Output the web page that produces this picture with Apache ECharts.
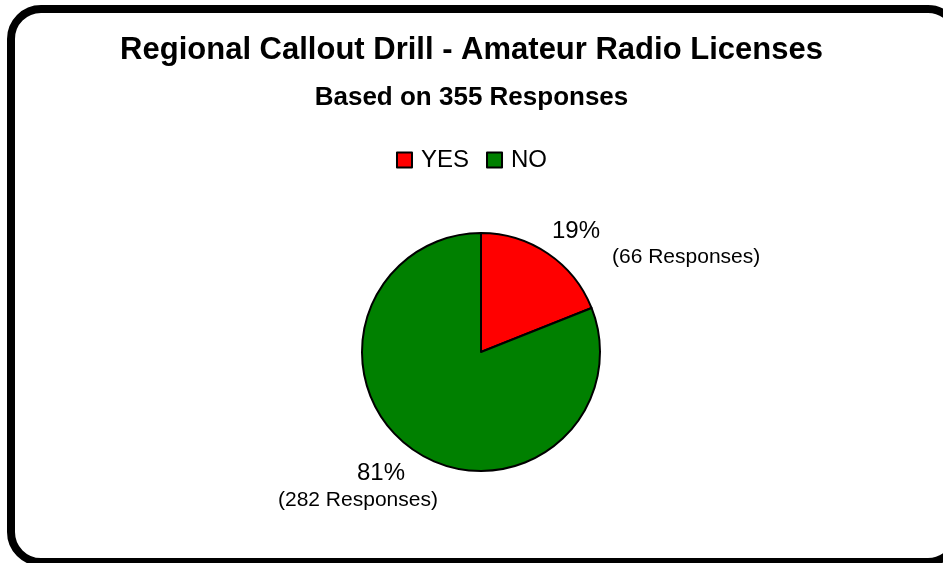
<!DOCTYPE html>
<html>
<head>
<meta charset="utf-8">
<script src="https://cdn.jsdelivr.net/npm/echarts@6/dist/echarts.min.js"></script>
<style>
html,body{margin:0;padding:0;background:#fff;}
#chart{width:943px;height:563px;}
</style>
</head>
<body>
<div id="chart"></div>
<script>
var titleText = 'Regional Callout Drill - Amateur Radio Licenses';
var subtitleText = 'Based on 355 Responses';
var categories = ['YES', 'NO'];
var responses = [66, 282];
var percents = [19, 81];
var colors = ['#FF0000', '#008000'];

var FONT = 'Liberation Sans, Arial, sans-serif';
// label box placement (top-left) and indent of each line, per slice
var labelPlace = [
  { x: 552, y: 217, pad1: 0, pad2: 60, lh2: 25 },
  { x: 278, y: 459, pad1: 79, pad2: 0, lh2: 27 }
];

var chart = echarts.init(document.getElementById('chart'));
var data = categories.map(function (c, i) {
  var lp = labelPlace[i];
  return {
    name: c,
    value: responses[i],
    itemStyle: { color: colors[i] },
    label: {
      rich: {
        p: { fontFamily: FONT, fontSize: 24, color: '#000', lineHeight: 28, align: 'left', padding: [0, 0, 0, lp.pad1] },
        r: { fontFamily: FONT, fontSize: 21, color: '#000', lineHeight: lp.lh2, align: 'left', padding: [0, 0, 0, lp.pad2] }
      }
    }
  };
});

chart.setOption({
  animation: false,
  backgroundColor: '#fff',
  graphic: [{
    type: 'rect',
    shape: { x: 11, y: 9, width: 947, height: 553, r: 30 },
    style: { fill: 'none', stroke: '#000', lineWidth: 8 },
    silent: true
  }],
  title: [{
    text: titleText,
    left: 'center',
    top: 30,
    textStyle: { fontFamily: FONT, fontSize: 31, fontWeight: 'bold', color: '#000' }
  }, {
    text: subtitleText,
    left: 'center',
    top: 80,
    textStyle: { fontFamily: FONT, fontSize: 26, fontWeight: 'bold', color: '#000' }
  }],
  legend: {
    data: categories,
    top: 143,
    left: 'center',
    icon: 'rect',
    itemWidth: 15,
    itemHeight: 15,
    itemGap: 17,
    itemStyle: { borderColor: '#000', borderWidth: 2 },
    textStyle: { fontFamily: FONT, fontSize: 24, color: '#000', padding: [0, 0, 0, 4] }
  },
  series: [{
    type: 'pie',
    center: [481, 352],
    radius: 119,
    startAngle: 90,
    clockwise: true,
    data: data,
    itemStyle: { borderColor: '#000', borderWidth: 2 },
    emphasis: { disabled: true },
    label: {
      show: true,
      position: 'outside',
      formatter: function (p) {
        return '{p|' + percents[p.dataIndex] + '%}\n{r|(' + p.value + ' Responses)}';
      }
    },
    labelLine: { show: false, length: 0, length2: 0 },
    labelLayout: function (params) {
      var lp = labelPlace[params.dataIndex];
      return { x: lp.x, y: lp.y, align: 'left', verticalAlign: 'top' };
    }
  }]
});
</script>
</body>
</html>
